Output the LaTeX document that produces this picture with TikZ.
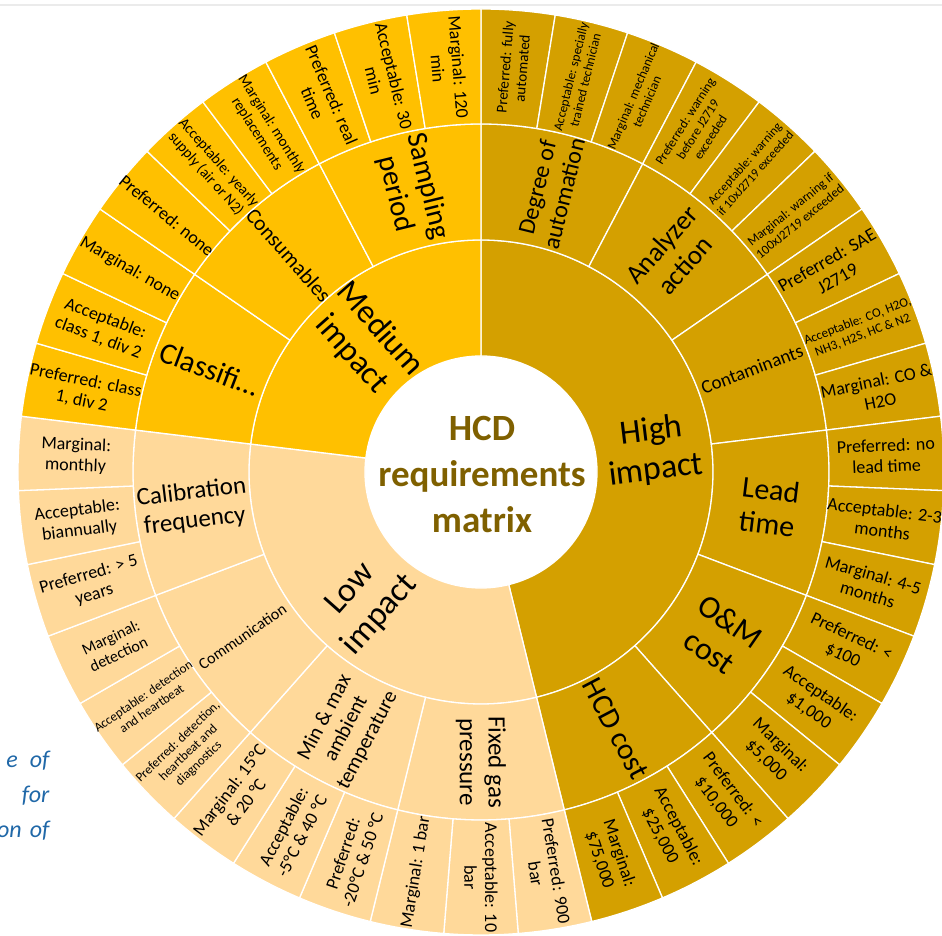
\documentclass[tikz,border=0pt]{standalone}
\usepackage{fontspec}
\setmainfont{Carlito}

\definecolor{highgold}{HTML}{D4A000}
\definecolor{medgold}{HTML}{FFC000}
\definecolor{lowpeach}{HTML}{FFD99A}
\definecolor{titlebrown}{HTML}{7F6000}
\definecolor{noteblue}{HTML}{2068A8}

% one slice of the sunburst: style, inner r, outer r, first leaf, leaves, font size, name, text
\newcommand{\sunslice}[8]{%
  \pgfmathsetmacro{\aone}{90-#4*360/39}%
  \pgfmathsetmacro{\atwo}{90-(#4+#5)*360/39}%
  \pgfmathsetmacro{\amid}{(\aone+\atwo)/2}%
  \pgfmathsetmacro{\rmid}{(#2+#3)/2}%
  \pgfmathsetmacro{\arot}{\amid>=-90.01 ? \amid : \amid+180}%
  \pgfmathsetmacro{\lskip}{#6*1.15}%
  \draw[#1] (\aone:#2pt) arc (\aone:\atwo:#2pt) -- (\atwo:#3pt) arc (\atwo:\aone:#3pt) -- cycle;
  \node (#7) [slicetext, rotate=\arot, font=\fontsize{#6}{\lskip}\selectfont] at (\amid:\rmid pt) {#8};
}

\begin{document}
\begin{tikzpicture}

  % Definitions
  \tikzstyle{high} = [fill=highgold, draw=white, line width=1.3pt, line join=round]
  \tikzstyle{medium} = [fill=medgold, draw=white, line width=1.3pt, line join=round]
  \tikzstyle{low} = [fill=lowpeach, draw=white, line width=1.3pt, line join=round]
  \tikzstyle{slicetext} = [align=center, text=black, inner sep=0pt]
  \tikzstyle{note} = [anchor=base east, text=noteblue, font=\itshape\fontsize{24}{28}\selectfont]

  \useasboundingbox (-481pt,-464pt) rectangle (461pt,472pt);
  \draw[black!8, line width=1.6pt] (-481pt,467pt) -- (461pt,467pt);

  % page text behind the chart
  \node (note1) [note] at (-428pt,-295pt) {e\hspace{12pt}of};
  \node (note2) [note] at (-428pt,-330pt) {for};
  \node (note3) [note] at (-428pt,-365pt) {on\hspace{8pt}of};

  % high impact
  \sunslice{high}{116}{232}{0}{18}{34}{himpact}{High\\impact}
  \sunslice{high}{232}{348}{0}{3}{24}{automation}{Degree of\\automation}
  \sunslice{high}{232}{348}{3}{3}{27}{action}{Analyzer\\action}
  \sunslice{high}{232}{348}{6}{3}{19}{contaminants}{Contaminants}
  \sunslice{high}{232}{348}{9}{3}{30}{leadtime}{Lead\\time}
  \sunslice{high}{232}{348}{12}{3}{32}{omcost}{O\&M\\cost}
  \sunslice{high}{232}{348}{15}{3}{30}{hcdcost}{HCD cost}

  \sunslice{high}{348}{463}{0}{1}{15}{automation-p}{Preferred: fully\\automated}
  \sunslice{high}{348}{463}{1}{1}{13}{automation-a}{Acceptable: specially\\trained technician}
  \sunslice{high}{348}{463}{2}{1}{13}{automation-m}{Marginal: mechanical\\technician}
  \sunslice{high}{348}{463}{3}{1}{13}{action-p}{Preferred: warning\\before J2719\\exceeded}
  \sunslice{high}{348}{463}{4}{1}{12.5}{action-a}{Acceptable: warning\\if 10xJ2719 exceeded}
  \sunslice{high}{348}{463}{5}{1}{13}{action-m}{Marginal: warning if\\100xJ2719 exceeded}
  \sunslice{high}{348}{463}{6}{1}{18.5}{contaminants-p}{Preferred: SAE\\J2719}
  \sunslice{high}{348}{463}{7}{1}{13}{contaminants-a}{Acceptable: CO, H2O,\\NH3, H2S, HC \& N2}
  \sunslice{high}{348}{463}{8}{1}{18}{contaminants-m}{Marginal: CO \&\\H2O}
  \sunslice{high}{348}{463}{9}{1}{18}{leadtime-p}{Preferred: no\\lead time}
  \sunslice{high}{348}{463}{10}{1}{18}{leadtime-a}{Acceptable: 2-3\\months}
  \sunslice{high}{348}{463}{11}{1}{18}{leadtime-m}{Marginal: 4-5\\months}
  \sunslice{high}{348}{463}{12}{1}{18}{omcost-p}{Preferred: <\\\$100}
  \sunslice{high}{348}{463}{13}{1}{18}{omcost-a}{Acceptable:\\\$1,000}
  \sunslice{high}{348}{463}{14}{1}{18}{omcost-m}{Marginal:\\\$5,000}
  \sunslice{high}{348}{463}{15}{1}{18}{hcdcost-p}{Preferred: <\\\$10,000}
  \sunslice{high}{348}{463}{16}{1}{18}{hcdcost-a}{Acceptable:\\\$25,000}
  \sunslice{high}{348}{463}{17}{1}{18}{hcdcost-m}{Marginal:\\\$75,000}

  % low impact
  \sunslice{low}{116}{232}{18}{12}{34}{limpact}{Low\\impact}
  \sunslice{low}{232}{348}{18}{3}{25}{gaspressure}{Fixed gas\\pressure}
  \sunslice{low}{232}{348}{21}{3}{21}{temperature}{Min \& max\\ambient\\temperature}
  \sunslice{low}{232}{348}{24}{3}{16}{communication}{Communication}
  \sunslice{low}{232}{348}{27}{3}{25}{calibration}{Calibration\\frequency}

  \sunslice{low}{348}{463}{18}{1}{18}{gaspressure-p}{Preferred: 900\\bar}
  \sunslice{low}{348}{463}{19}{1}{18}{gaspressure-a}{Acceptable: 10\\bar}
  \sunslice{low}{348}{463}{20}{1}{18}{gaspressure-m}{Marginal: 1 bar}
  \sunslice{low}{348}{463}{21}{1}{18}{temperature-p}{Preferred:\\-20°C \& 50 °C}
  \sunslice{low}{348}{463}{22}{1}{18}{temperature-a}{Acceptable:\\-5°C \& 40 °C}
  \sunslice{low}{348}{463}{23}{1}{18}{temperature-m}{Marginal: 15°C\\\& 20 °C}
  \sunslice{low}{348}{463}{24}{1}{13}{communication-p}{Preferred: detection,\\heartbeat and\\diagnostics}
  \sunslice{low}{348}{463}{25}{1}{13}{communication-a}{Acceptable: detection\\and heartbeat}
  \sunslice{low}{348}{463}{26}{1}{16}{communication-m}{Marginal:\\detection}
  \sunslice{low}{348}{463}{27}{1}{18}{calibration-p}{Preferred: > 5\\years}
  \sunslice{low}{348}{463}{28}{1}{18}{calibration-a}{Acceptable:\\biannually}
  \sunslice{low}{348}{463}{29}{1}{18}{calibration-m}{Marginal:\\monthly}

  % medium impact
  \sunslice{medium}{116}{232}{30}{9}{33}{mimpact}{Medium\\impact}
  \sunslice{medium}{232}{348}{30}{3}{30}{classification}{Classifi…}
  \sunslice{medium}{232}{348}{33}{3}{21.5}{consumables}{Consumables}
  \sunslice{medium}{232}{348}{36}{3}{29}{sampling}{Sampling\\period}

  \sunslice{medium}{348}{463}{30}{1}{18}{classification-p}{Preferred: class\\1, div 2}
  \sunslice{medium}{348}{463}{31}{1}{18}{classification-a}{Acceptable:\\class 1, div 2}
  \sunslice{medium}{348}{463}{32}{1}{18}{classification-m}{Marginal: none}
  \sunslice{medium}{348}{463}{33}{1}{18}{consumables-p}{Preferred: none}
  \sunslice{medium}{348}{463}{34}{1}{15}{consumables-a}{Acceptable: yearly\\supply (air or N2)}
  \sunslice{medium}{348}{463}{35}{1}{15}{consumables-m}{Marginal: monthly\\replacements}
  \sunslice{medium}{348}{463}{36}{1}{18}{sampling-p}{Preferred: real\\time}
  \sunslice{medium}{348}{463}{37}{1}{18}{sampling-a}{Acceptable: 30\\min}
  \sunslice{medium}{348}{463}{38}{1}{18}{sampling-m}{Marginal: 120\\min}

  % centre
  \node (title) [align=center, text=titlebrown, font=\bfseries\fontsize{37}{46}\selectfont] at (1pt,-3pt) {HCD\\requirements\\matrix};

\end{tikzpicture}
\end{document}
